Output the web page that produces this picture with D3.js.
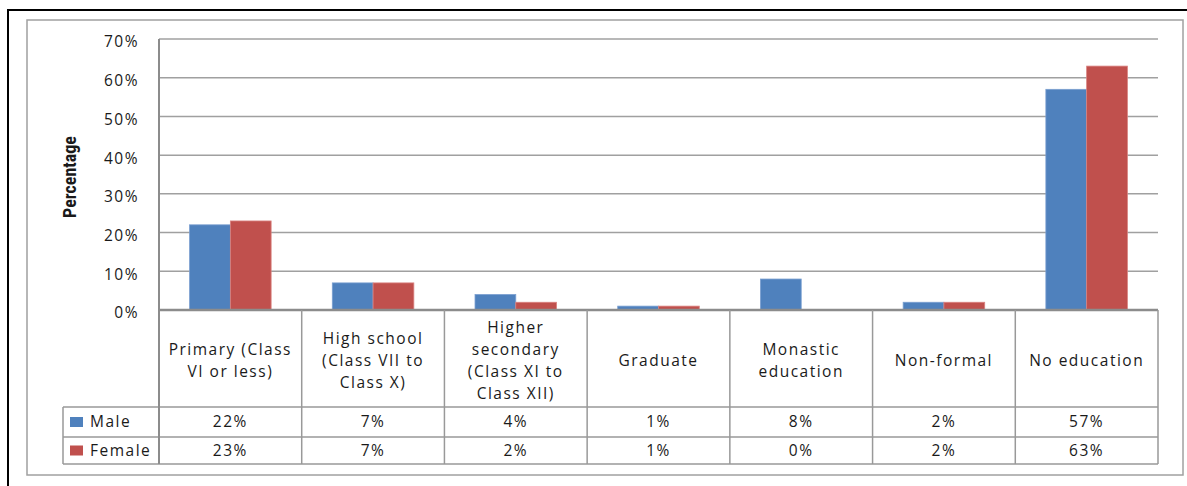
<!DOCTYPE html>
<html>
<head>
<meta charset="utf-8">
<script src="https://cdn.jsdelivr.net/npm/d3@7"></script>
<style>
  html, body { margin: 0; padding: 0; background: #fff; }
  svg { display: block; }
  text { font-family: "Open Sans", "Noto Sans", sans-serif; fill: #1a1a1a; }
</style>
</head>
<body>
<svg id="chart" width="1187" height="486"></svg>
<script>
// Education level by sex (share of population)
const categories = [
  ["Primary (Class", "VI or less)"],
  ["High school", "(Class VII to", "Class X)"],
  ["Higher", "secondary", "(Class XI to", "Class XII)"],
  ["Graduate"],
  ["Monastic", "education"],
  ["Non-formal"],
  ["No education"]
];
const seriesNames = ["Male", "Female"];
const maleValues   = [22, 7, 4, 1, 8, 2, 57];
const femaleValues = [23, 7, 2, 1, 0, 2, 63];
const yTicks = [0, 10, 20, 30, 40, 50, 60, 70];
const seriesColors = ["#4F81BD", "#C0504D"];
const seriesValues = [maleValues, femaleValues];

const fontSize = 15.5;
const spacing = 1.5;

const svg = d3.select("#chart");

// outer frame and inner chart-area border
svg.append("path")
  .attr("d", "M8,486 V10 H1187")
  .attr("fill", "none").attr("stroke", "#000").attr("stroke-width", 2);
svg.append("rect")
  .attr("x", 27).attr("y", 20).attr("width", 1156).attr("height", 455)
  .attr("fill", "none").attr("stroke", "#a0a0a0").attr("stroke-width", 1.5);

const plot = { left: 159, right: 1158, top: 39, bottom: 310 };
const table = { legendLeft: 63, catBottom: 407, row1: 437, row2: 464 };

const keys = categories.map((c, i) => "c" + i);
const x0 = d3.scaleBand().domain(keys).range([plot.left, plot.right]).padding(0);
const x1 = d3.scaleBand().domain(seriesNames).range([0, x0.bandwidth()])
  .paddingInner(0).paddingOuter(0.75);
const y = d3.scaleLinear().domain([0, 70]).range([plot.bottom, plot.top]);

// horizontal gridlines
svg.append("g")
  .selectAll("line").data(yTicks.filter(t => t > 0)).join("line")
  .attr("x1", plot.left).attr("x2", plot.right)
  .attr("y1", d => y(d)).attr("y2", d => y(d))
  .attr("stroke", "#a0a0a0").attr("stroke-width", 1.5);

// y-axis tick labels
const yAxis = d3.axisLeft(y).tickValues(yTicks).tickFormat(d => d + "%").tickSize(0).tickPadding(0);
const yG = svg.append("g").attr("transform", `translate(139,3)`).call(yAxis);
yG.select(".domain").remove();
yG.selectAll("text")
  .attr("font-size", fontSize).attr("fill", "#1a1a1a")
  .attr("letter-spacing", spacing)
  .style("font-family", '"Open Sans", sans-serif');

// y-axis title
svg.append("text")
  .attr("transform", "translate(76,177) rotate(-90)")
  .attr("text-anchor", "middle")
  .attr("font-size", 18).attr("font-weight", "bold")
  .style("font-family", '"Liberation Sans Narrow", "Roboto Condensed", "Open Sans", sans-serif')
  .text("Percentage");

// bars
const groups = svg.append("g").selectAll("g").data(keys).join("g")
  .attr("transform", d => `translate(${x0(d)},0)`);
groups.selectAll("rect")
  .data((d, i) => seriesNames.map((s, j) => ({ s, j, v: seriesValues[j][i] })))
  .join("rect")
  .filter(d => d.v > 0)
  .attr("x", d => x1(d.s))
  .attr("y", d => y(d.v))
  .attr("width", x1.bandwidth())
  .attr("height", d => y(0) - y(d.v))
  .attr("fill", d => seriesColors[d.j])
  .attr("stroke", d => d.j === 0 ? "#7a9fd0" : "#d98380")
  .attr("stroke-width", 0.8);

// data table lines
const grid = svg.append("g").attr("stroke", "#999").attr("stroke-width", 1.5);
// category axis line
grid.append("line").attr("x1", plot.left).attr("x2", plot.right)
  .attr("y1", plot.bottom).attr("y2", plot.bottom).attr("stroke", "#8c8c8c").attr("stroke-width", 2.5);
[table.catBottom, table.row1, table.row2].forEach(yy => {
  grid.append("line").attr("x1", table.legendLeft).attr("x2", plot.right)
    .attr("y1", yy).attr("y2", yy);
});
// vertical value axis
grid.append("line").attr("x1", plot.left).attr("x2", plot.left)
  .attr("y1", plot.top).attr("y2", table.row2).attr("stroke", "#8c8c8c").attr("stroke-width", 2);
keys.forEach(k => {
  const xx = x0(k) + x0.bandwidth();
  grid.append("line").attr("x1", xx).attr("x2", xx)
    .attr("y1", plot.bottom).attr("y2", table.row2);
});
grid.append("line").attr("x1", table.legendLeft).attr("x2", table.legendLeft)
  .attr("y1", table.catBottom).attr("y2", table.row2);

// category labels
const lineH = 22;
const catMid = 361;
svg.append("g").selectAll("text").data(categories).join("text")
  .attr("text-anchor", "middle")
  .attr("font-size", fontSize)
  .attr("letter-spacing", spacing)
  .each(function (lines, i) {
    const t = d3.select(this);
    const cx = x0(keys[i]) + x0.bandwidth() / 2;
    const y0 = catMid - (lines.length - 1) * lineH / 2;
    lines.forEach((ln, k) => {
      t.append("tspan").attr("x", cx).attr("y", y0 + k * lineH).attr("dy", "0.35em").text(ln);
    });
  });

// legend and value rows
const rowMids = [(table.catBottom + table.row1) / 2, (table.row1 + table.row2) / 2];
seriesNames.forEach((s, j) => {
  const ym = rowMids[j];
  svg.append("rect").attr("x", 70).attr("y", ym - 5).attr("width", 13).attr("height", 10)
    .attr("fill", seriesColors[j]);
  svg.append("text").attr("x", 90).attr("y", ym).attr("dy", "0.35em")
    .attr("font-size", fontSize).attr("letter-spacing", spacing).text(s);
  svg.append("g").selectAll("text").data(seriesValues[j]).join("text")
    .attr("x", (d, i) => x0(keys[i]) + x0.bandwidth() / 2)
    .attr("y", ym).attr("dy", "0.35em")
    .attr("text-anchor", "middle")
    .attr("font-size", fontSize).attr("letter-spacing", spacing)
    .text(d => d + "%");
});
</script>
</body>
</html>
